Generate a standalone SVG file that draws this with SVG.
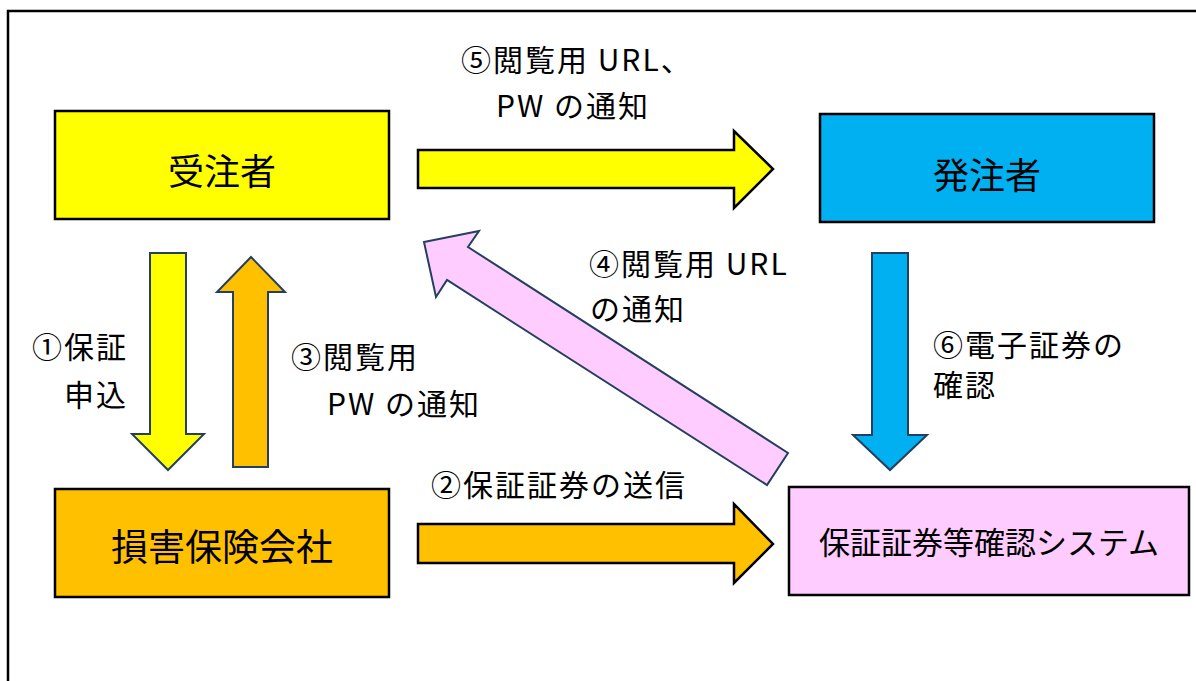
<svg xmlns="http://www.w3.org/2000/svg" width="1196" height="681" viewBox="0 0 1196 681">
<style>
.box{stroke:#000;stroke-width:2.5}
.lbl{font-family:"Noto Sans CJK JP","Noto Sans",sans-serif;font-size:30px;letter-spacing:2px;fill:#000}
.nt{font-family:"Noto Sans CJK JP","Noto Sans",sans-serif;fill:#000;text-anchor:middle}
.ab{stroke:#000;stroke-width:2.5;stroke-linejoin:miter}
.an{stroke:#243F60;stroke-width:2;stroke-linejoin:miter}
</style>
<rect width="1196" height="681" fill="#fff"/>
<path d="M8,681 V11 H1196" fill="none" stroke="#000" stroke-width="2.5"/>
<g id="connectors">
<polygon class="ab" fill="#FFFF00" points="418,150 734,150 734,131 773,169 734,208 734,188 418,188"/>
<polygon class="ab" fill="#FFC000" points="418,524 734,524 734,504 773,544 734,583 734,563 418,563"/>
<polygon class="an" fill="#FFFF00" points="150,253 186,253 186,434 204,434 168,470 132,434 150,434"/>
<polygon class="an" fill="#FFC000" points="233,467 268,467 268,292 285,292 251,257 217,292 233,292"/>
<polygon class="an" fill="#00B0F0" points="872,253 908,253 908,435 927,435 890,470 853,435 872,435"/>
<polygon class="an" fill="#FFCCFF" points="424,242 479,231 468,247 788,453 767,485 447,280 436,297"/>
<text class="lbl" x="461" y="71">⑤閲覧用 URL、</text>
<text class="lbl" x="496" y="117">PW の通知</text>
<text class="lbl" x="589" y="275">④閲覧用 URL</text>
<text class="lbl" x="590" y="320">の通知</text>
<text class="lbl" x="291" y="368">③閲覧用</text>
<text class="lbl" x="327" y="415">PW の通知</text>
<text class="lbl" x="128" y="358" text-anchor="end">①保証</text>
<text class="lbl" x="128" y="406" text-anchor="end">申込</text>
<text class="lbl" x="933" y="356">⑥電子証券の</text>
<text class="lbl" x="933" y="396">確認</text>
<text class="lbl" x="431" y="496">②保証証券の送信</text>
</g>
<g id="node-juchusha">
<rect class="box" x="55" y="111" width="334" height="108" fill="#FFFF00"/>
<text class="nt" x="222" y="185" font-size="36">受注者</text>
</g>
<g id="node-hacchusha">
<rect class="box" x="820" y="114" width="334" height="108" fill="#00B0F0"/>
<text class="nt" x="987" y="189" font-size="36">発注者</text>
</g>
<g id="node-sonpo">
<rect class="box" x="55" y="489" width="334" height="108" fill="#FFC000"/>
<text class="nt" x="222" y="561" font-size="37">損害保険会社</text>
</g>
<g id="node-system">
<rect class="box" x="789" y="487" width="400" height="108" fill="#FFCCFF"/>
<text class="nt" x="989" y="554" font-size="31">保証証券等確認システム</text>
</g>
</svg>
